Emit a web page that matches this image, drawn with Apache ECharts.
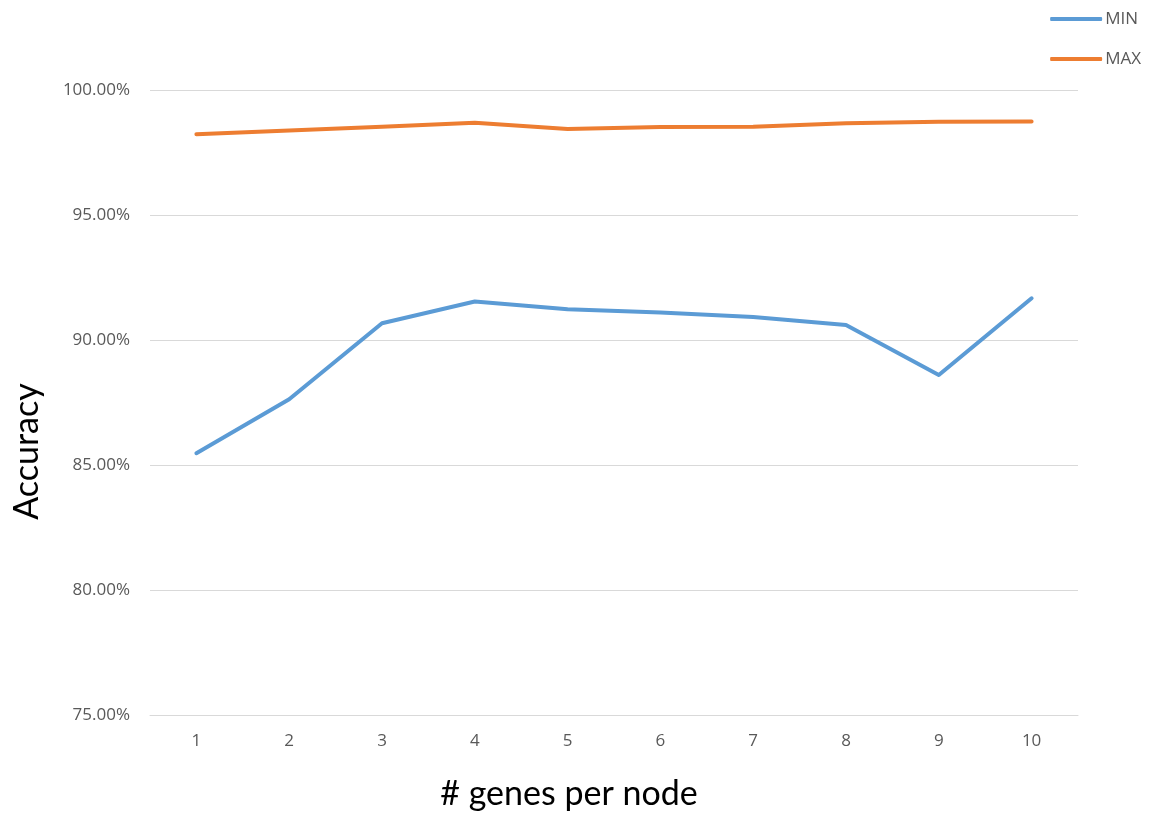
<!DOCTYPE html>
<html>
<head>
<meta charset="utf-8">
<script src="https://cdn.jsdelivr.net/npm/echarts@6/dist/echarts.min.js"></script>
<style>
    html, body { margin: 0; padding: 0; background: #fff; }
    #chart-container { width: 1156px; height: 814px; }
</style>
</head>
<body>
<div id="chart-container"></div>
<script>
// data
const genes = ['1', '2', '3', '4', '5', '6', '7', '8', '9', '10'];
const minAcc = [85.47, 87.63, 90.67, 91.54, 91.23, 91.1, 90.92, 90.6, 88.6, 91.67];
const maxAcc = [98.23, 98.38, 98.53, 98.69, 98.44, 98.52, 98.53, 98.67, 98.73, 98.74];
const yTicks = { min: 75, max: 100, step: 5 };

const labelColor = '#595959';
const gridColor = '#d9d9d9';

const chart = echarts.init(document.getElementById('chart-container'));
chart.setOption({
    animation: false,
    textStyle: { fontFamily: 'Open Sans' },
    legend: {
        orient: 'vertical',
        right: 10,
        top: 4,
        itemGap: 20,
        itemWidth: 52,
        itemHeight: 4,
        icon: 'roundRect',
        textStyle: { color: labelColor, fontSize: 17, lineHeight: 20, padding: [0, 0, 0, -2] },
        data: ['MIN', 'MAX']
    },
    grid: { left: 150, right: 78, top: 90, bottom: 99, outerBoundsMode: 'none' },
    xAxis: {
        type: 'category',
        data: genes,
        name: '# genes per node',
        nameLocation: 'middle',
        nameGap: 62,
        nameTextStyle: { fontFamily: 'Lato', fontSize: 34, color: '#000', padding: [0, 90, 0, 0] },
        axisLine: { lineStyle: { color: gridColor } },
        axisTick: { show: false },
        axisLabel: { color: labelColor, fontSize: 17, margin: 18 }
    },
    yAxis: {
        type: 'value',
        min: yTicks.min,
        max: yTicks.max,
        interval: yTicks.step,
        name: 'Accuracy',
        nameLocation: 'middle',
        nameGap: 106,
        nameTextStyle: { fontFamily: 'Lato', fontSize: 34, color: '#000', padding: [0, 98, 0, 0] },
        axisLine: { show: false },
        axisTick: { show: false },
        axisLabel: {
            color: labelColor,
            fontSize: 17,
            margin: 20,
            formatter: (v) => v.toFixed(2) + '%'
        },
        splitLine: { lineStyle: { color: gridColor, width: 1 } }
    },
    series: [
        {
            name: 'MIN',
            type: 'line',
            data: minAcc,
            showSymbol: false,
            color: '#5b9bd5',
            lineStyle: { width: 4, cap: 'round', join: 'round' }
        },
        {
            name: 'MAX',
            type: 'line',
            data: maxAcc,
            showSymbol: false,
            color: '#ed7d31',
            lineStyle: { width: 4, cap: 'round', join: 'round' }
        }
    ]
});
</script>
</body>
</html>
